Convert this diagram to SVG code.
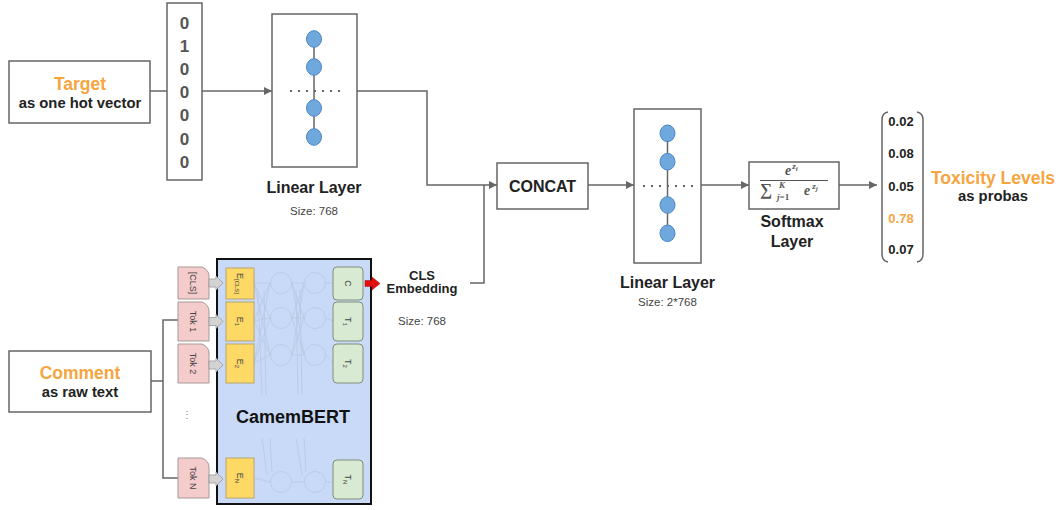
<svg xmlns="http://www.w3.org/2000/svg" width="1061" height="510" viewBox="0 0 1061 510">
<style>
text{font-family:"Liberation Sans",Arial,sans-serif;}
.box{fill:#fff;stroke:#666;stroke-width:1.5;}
.conn{fill:none;stroke:#666;stroke-width:1.5;}
.title{font-size:17.5px;font-weight:bold;fill:#f6a53f;text-anchor:middle;}
.sub{font-size:14.8px;font-weight:bold;fill:#222;text-anchor:middle;}
.lbl{font-size:16px;font-weight:bold;fill:#222;text-anchor:middle;}
.size{font-size:11.5px;fill:#444;text-anchor:middle;}
.digit{font-size:17px;font-weight:bold;fill:#555;text-anchor:middle;}
.prob{font-size:13px;font-weight:bold;fill:#222;text-anchor:middle;}
.neuron{fill:#6fa8dc;stroke:#4a86c5;stroke-width:1;}
.dots{stroke:#666;stroke-width:2;stroke-dasharray:2 6;}
.tok{fill:#f4cccc;stroke:#a89999;stroke-width:1;}
.emb{fill:#ffd966;stroke:#b8a56a;stroke-width:1;}
.out{fill:#d9ead3;stroke:#7f8f7a;stroke-width:1;}
.rt{font-size:9px;fill:#444;text-anchor:middle;}
.garrow{fill:#d3d3d3;stroke:#999;stroke-width:0.8;}
.faint{fill:none;stroke:#b3c1dc;stroke-width:0.8;}
.fml{font-family:"Liberation Serif","Times New Roman",serif;fill:#555;font-weight:bold;}
</style>
<defs>
<marker id="arr" viewBox="0 0 10 10" refX="10" refY="5" markerWidth="10" markerHeight="8" markerUnits="userSpaceOnUse" orient="auto">
<path d="M0,0 L10,5 L0,10 Z" fill="#666"/>
</marker>
</defs>

<g id="connectors">
<line class="conn" x1="150" y1="91" x2="167" y2="91"/>
<line class="conn" x1="202" y1="91" x2="272" y2="91" marker-end="url(#arr)"/>
<polyline class="conn" points="357,91 427,91 427,185 497,185" marker-end="url(#arr)"/>
<polyline class="conn" points="470,283 484,283 484,185"/>
<line class="conn" x1="588" y1="185" x2="634" y2="185" marker-end="url(#arr)"/>
<line class="conn" x1="701" y1="185" x2="749" y2="185" marker-end="url(#arr)"/>
<line class="conn" x1="839" y1="185" x2="877" y2="185" marker-end="url(#arr)"/>
<line class="conn" x1="151" y1="381" x2="163" y2="381"/>
<polyline class="conn" points="178,320 163,320 163,478 178,478"/>
</g>

<g id="target">
<rect class="box" x="9" y="61" width="141" height="62"/>
<text class="title" x="80" y="90">Target</text>
<text class="sub" x="80" y="108">as one hot vector</text>
</g>

<g id="onehot">
<rect class="box" x="167" y="3" width="35" height="177"/>
<text class="digit" x="184.5" y="28.8">0</text>
<text class="digit" x="184.5" y="52">1</text>
<text class="digit" x="184.5" y="75.1">0</text>
<text class="digit" x="184.5" y="98.3">0</text>
<text class="digit" x="184.5" y="121.4">0</text>
<text class="digit" x="184.5" y="144.6">0</text>
<text class="digit" x="184.5" y="167.8">0</text>
</g>

<g id="linear1">
<rect class="box" x="272" y="14" width="85" height="153"/>
<line x1="314" y1="39" x2="314" y2="137" stroke="#666" stroke-width="1.5"/>
<line class="dots" x1="290" y1="91" x2="340" y2="91"/>
<ellipse class="neuron" cx="314" cy="39" rx="7.5" ry="8.3"/>
<ellipse class="neuron" cx="314" cy="67" rx="7.5" ry="8.3"/>
<ellipse class="neuron" cx="314" cy="108" rx="7.5" ry="8.3"/>
<ellipse class="neuron" cx="314" cy="137" rx="7.5" ry="8.3"/>
<text class="lbl" x="314" y="193">Linear Layer</text>
<text class="size" x="314" y="215">Size: 768</text>
</g>

<g id="comment">
<rect class="box" x="9" y="351" width="142" height="61"/>
<text class="title" x="80" y="378.7">Comment</text>
<text class="sub" x="80" y="396.7">as raw text</text>
</g>

<g id="camembert">
<rect x="217" y="259" width="154" height="245" fill="#c9daf8" stroke="#111" stroke-width="2"/>
<g opacity="0.75">
<circle class="faint" cx="281" cy="283" r="10.5"/>
<circle class="faint" cx="315" cy="283" r="10.5"/>
<circle class="faint" cx="281" cy="318" r="10.5"/>
<circle class="faint" cx="315" cy="318" r="10.5"/>
<circle class="faint" cx="281" cy="355" r="10.5"/>
<circle class="faint" cx="315" cy="355" r="10.5"/>
<circle class="faint" cx="281" cy="482" r="10.5"/>
<circle class="faint" cx="315" cy="482" r="10.5"/>
<path class="faint" d="M254,283 L270,283 M254,321 L270,318 M254,363 L270,355 M254,283 L270,318 M254,283 L270,355 M254,321 L270,283 M254,321 L270,355 M254,363 L270,283 M254,363 L270,318 M258,290 L262,395 M264,290 L266,395"/>
<path class="faint" d="M292,283 L304,283 M292,318 L304,318 M292,355 L304,355 M292,283 L304,318 M292,283 L304,355 M292,318 L304,283 M292,318 L304,355 M292,355 L304,283 M292,355 L304,318 M296,290 L298,395 M300,290 L302,395"/>
<path class="faint" d="M326,283 L333,283 M326,318 L333,321 M326,355 L333,363 M326,482 L333,482 M254,478 L270,482 M292,482 L304,482"/>
<path class="faint" d="M262,438 L267,475 M270,438 L272,472 M296,438 L302,475 M304,438 L306,472"/>
</g>
<path class="tok" d="M178,267 H202 Q209,270 209,276 V299 H178 Z"/>
<path class="tok" d="M178,302 H202 Q209,305 209,311 V341 H178 Z"/>
<path class="tok" d="M178,344 H202 Q209,347 209,353 V383 H178 Z"/>
<path class="tok" d="M178,458 H202 Q209,461 209,467 V498 H178 Z"/>
<text class="rt" transform="translate(193,283) rotate(90)" dy="3">[CLS]</text>
<text class="rt" transform="translate(193,321.5) rotate(90)" dy="3">Tok 1</text>
<text class="rt" transform="translate(193,363.5) rotate(90)" dy="3">Tok 2</text>
<text class="rt" transform="translate(193,478) rotate(90)" dy="3">Tok N</text>
<text x="187" y="418" font-size="10" fill="#888" text-anchor="middle">⋮</text>
<path class="garrow" d="M209,279 H216 V276 L223,283 L216,290 V287 H209 Z"/>
<path class="garrow" d="M209,317.5 H216 V314.5 L223,321.5 L216,328.5 V325.5 H209 Z"/>
<path class="garrow" d="M209,361 H216 V358 L223,365 L216,372 V369 H209 Z"/>
<path class="garrow" d="M209,475 H216 V472 L223,479 L216,486 V483 H209 Z"/>
<rect class="emb" x="226" y="268" width="28" height="31"/>
<rect class="emb" x="226" y="302" width="28" height="39"/>
<rect class="emb" x="226" y="344" width="28" height="39"/>
<rect class="emb" x="226" y="458" width="28" height="40"/>
<text class="rt" transform="translate(240,283.5) rotate(90)" dy="3">E<tspan font-size="6" dy="2">[CLS]</tspan></text>
<text class="rt" transform="translate(240,321.5) rotate(90)" dy="3">E<tspan font-size="6" dy="2">1</tspan></text>
<text class="rt" transform="translate(240,363.5) rotate(90)" dy="3">E<tspan font-size="6" dy="2">2</tspan></text>
<text class="rt" transform="translate(240,478) rotate(90)" dy="3">E<tspan font-size="6" dy="2">N</tspan></text>
<rect class="out" x="333" y="267" width="30" height="33" rx="4"/>
<rect class="out" x="333" y="302" width="30" height="39" rx="4"/>
<rect class="out" x="333" y="344" width="30" height="39" rx="4"/>
<rect class="out" x="333" y="460" width="30" height="39" rx="4"/>
<text class="rt" transform="translate(348,283.5) rotate(90)" dy="3">C</text>
<text class="rt" transform="translate(348,321.5) rotate(90)" dy="3">T<tspan font-size="6" dy="2">1</tspan></text>
<text class="rt" transform="translate(348,363.5) rotate(90)" dy="3">T<tspan font-size="6" dy="2">2</tspan></text>
<text class="rt" transform="translate(348,479.5) rotate(90)" dy="3">T<tspan font-size="6" dy="2">N</tspan></text>
<text x="293" y="423" font-size="18" font-weight="bold" fill="#111" text-anchor="middle">CamemBERT</text>
<path d="M365,280.5 H372 V277 L380,283.5 L372,290 V286.5 H365 Z" fill="#e01010" stroke="#b00" stroke-width="0.5"/>
</g>

<g id="cls">
<text x="422" y="279.5" font-size="13" font-weight="bold" fill="#222" text-anchor="middle">CLS</text>
<text x="422" y="293" font-size="13" font-weight="bold" fill="#222" text-anchor="middle">Embedding</text>
<text class="size" x="422" y="325">Size: 768</text>
</g>

<g id="concat">
<rect class="box" x="497" y="163" width="91" height="46"/>
<text class="lbl" x="542.5" y="191.5">CONCAT</text>
</g>

<g id="linear2">
<rect class="box" x="634" y="109" width="67" height="154"/>
<line x1="667.5" y1="133" x2="667.5" y2="233" stroke="#666" stroke-width="1.5"/>
<line class="dots" x1="643" y1="186" x2="693" y2="186"/>
<ellipse class="neuron" cx="667.5" cy="133.3" rx="7.5" ry="8.3"/>
<ellipse class="neuron" cx="667.5" cy="161.7" rx="7.5" ry="8.3"/>
<ellipse class="neuron" cx="667.5" cy="205" rx="7.5" ry="8.3"/>
<ellipse class="neuron" cx="667.5" cy="233.3" rx="7.5" ry="8.3"/>
<text class="lbl" x="667.5" y="288.3">Linear Layer</text>
<text class="size" x="667.5" y="306">Size: 2*768</text>
</g>

<g id="softmax">
<rect class="box" x="749" y="162" width="90" height="47"/>
<text class="fml" x="785" y="175" font-size="14" font-style="italic">e<tspan font-size="9" dy="-6" dx="1">z</tspan><tspan font-size="7" dy="2">i</tspan></text>
<line x1="760" y1="180.5" x2="828" y2="180.5" stroke="#555" stroke-width="1"/>
<text class="fml" x="760" y="195" font-size="17" font-weight="normal">∑</text>
<text class="fml" x="779" y="188" font-size="9" font-style="italic">K</text>
<text class="fml" x="777" y="200" font-size="9"><tspan font-style="italic">j</tspan>=1</text>
<text class="fml" x="804" y="195" font-size="14" font-style="italic">e<tspan font-size="9" dy="-6" dx="2">z</tspan><tspan font-size="7" dy="2">j</tspan></text>
<text class="lbl" x="792" y="227.3">Softmax</text>
<text class="lbl" x="792" y="246.7">Layer</text>
</g>

<g id="output">
<path class="conn" d="M888,112 Q882,113 882,120 V254 Q882,261 888,262"/>
<path class="conn" d="M917,112 Q923,113 923,120 V254 Q923,261 917,262"/>
<text class="prob" x="901" y="126">0.02</text>
<text class="prob" x="901" y="158">0.08</text>
<text class="prob" x="901" y="190.5">0.05</text>
<text class="prob" x="901" y="222.7" style="fill:#f6a53f">0.78</text>
<text class="prob" x="901" y="254">0.07</text>
</g>

<g id="toxicity">
<text class="title" x="993" y="184">Toxicity Levels</text>
<text class="sub" x="993" y="201">as probas</text>
</g>
</svg>
